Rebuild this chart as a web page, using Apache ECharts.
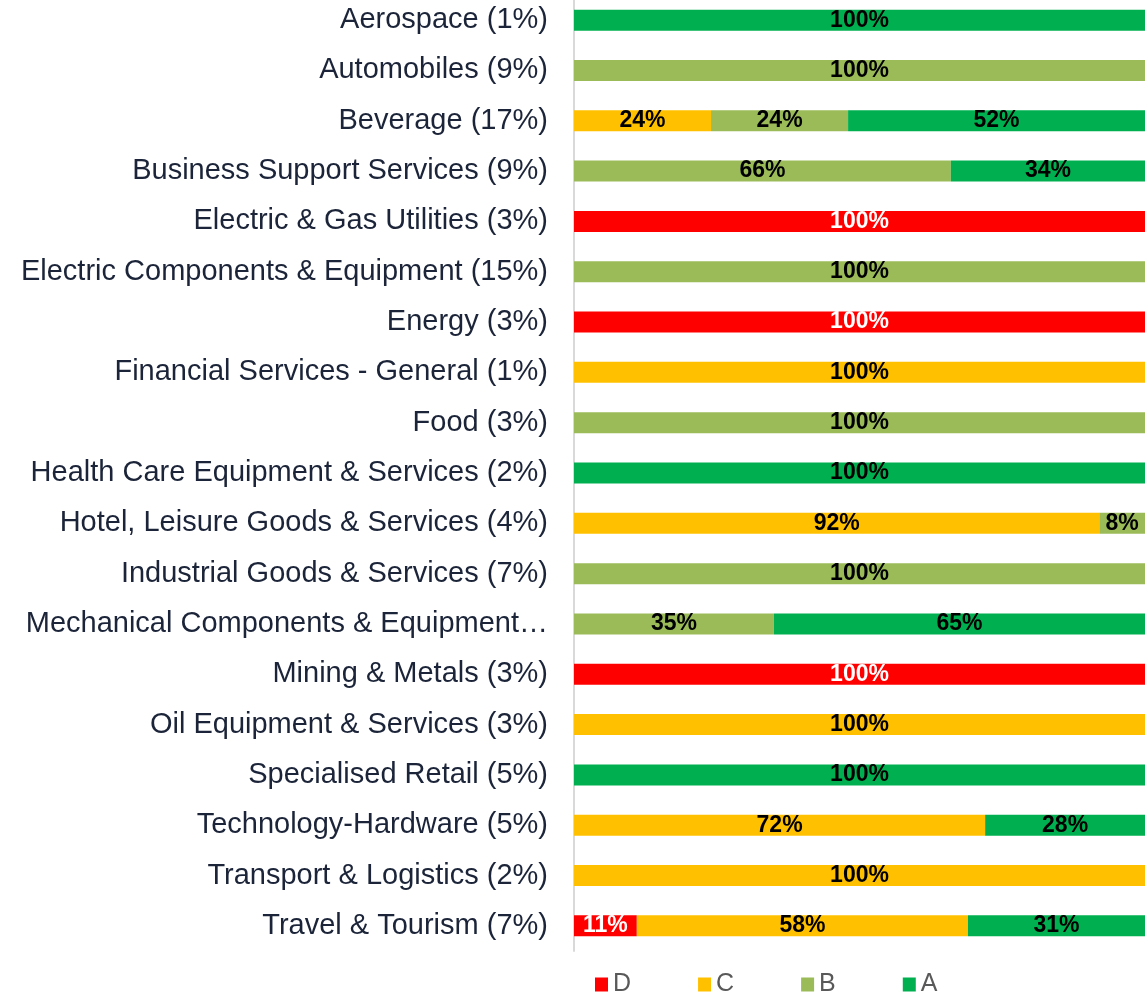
<!DOCTYPE html>
<html>
<head>
<meta charset="utf-8">
<script src="https://cdn.jsdelivr.net/npm/echarts@6/dist/echarts.min.js"></script>
<style>
  html, body { margin: 0; padding: 0; background: #fff; }
  #chart { width: 1145px; height: 996px; }
</style>
</head>
<body>
<div id="chart"></div>
<script>
const categories = [
  'Aerospace (1%)',
  'Automobiles (9%)',
  'Beverage (17%)',
  'Business Support Services (9%)',
  'Electric & Gas Utilities (3%)',
  'Electric Components & Equipment (15%)',
  'Energy (3%)',
  'Financial Services - General (1%)',
  'Food (3%)',
  'Health Care Equipment & Services (2%)',
  'Hotel, Leisure Goods & Services (4%)',
  'Industrial Goods & Services (7%)',
  'Mechanical Components & Equipment (1%)',
  'Mining & Metals (3%)',
  'Oil Equipment & Services (3%)',
  'Specialised Retail (5%)',
  'Technology-Hardware (5%)',
  'Transport & Logistics (2%)',
  'Travel & Tourism (7%)'
]
const gradeD = [0, 0, 0, 0, 100, 0, 100, 0, 0, 0, 0, 0, 0, 100, 0, 0, 0, 0, 11]
const gradeC = [0, 0, 24, 0, 0, 0, 0, 100, 0, 0, 92, 0, 0, 0, 100, 0, 72, 100, 58]
const gradeB = [0, 100, 24, 66, 0, 100, 0, 0, 100, 0, 8, 100, 35, 0, 0, 0, 0, 0, 0]
const gradeA = [100, 0, 52, 34, 0, 0, 0, 0, 0, 100, 0, 0, 65, 0, 0, 100, 28, 0, 31]

const chart = echarts.init(document.getElementById('chart'))

function makeSeries(name, data, color, labelColor) {
  return {
    name: name,
    type: 'bar',
    stack: 'total',
    barWidth: 21,
    itemStyle: { color: color },
    label: {
      show: true,
      position: 'inside',
      color: labelColor,
      fontFamily: 'Liberation Sans, Arial, sans-serif',
      fontWeight: 'bold',
      fontSize: 23,
      padding: [3, 0, 0, 0],
      formatter: p => (p.value > 0 ? p.value + '%' : '')
    },
    data: data
  }
}

const option = {
  animation: false,
  grid: { left: 574, right: 0, top: -5, bottom: 45, outerBoundsMode: 'none' },
  legend: {
    data: ['D', 'C', 'B', 'A'],
    left: 590,
    top: 967,
    itemWidth: 13,
    itemHeight: 14,
    itemGap: 67,
    icon: 'rect',
    textStyle: {
      color: '#595959',
      fontSize: 25,
      fontFamily: 'Liberation Sans, Arial, sans-serif'
    }
  },
  xAxis: {
    type: 'value',
    min: 0,
    max: 100,
    show: false
  },
  yAxis: {
    type: 'category',
    inverse: true,
    data: categories,
    axisTick: { show: false },
    axisLine: { show: true, lineStyle: { color: '#d9d9d9', width: 2 } },
    axisLabel: {
      margin: 26,
      color: '#1b2438',
      fontSize: 29,
      padding: [4, 0, 0, 0],
      fontFamily: 'Liberation Sans, Arial, sans-serif',
      formatter: v => (v.indexOf('Mechanical') === 0 ? 'Mechanical Components & Equipment…' : v)
    }
  },
  series: [
    makeSeries('D', gradeD, '#ff0000', '#ffffff'),
    makeSeries('C', gradeC, '#ffc000', '#000000'),
    makeSeries('B', gradeB, '#9bbb59', '#000000'),
    makeSeries('A', gradeA, '#00b050', '#000000')
  ]
}

chart.setOption(option)
</script>
</body>
</html>
